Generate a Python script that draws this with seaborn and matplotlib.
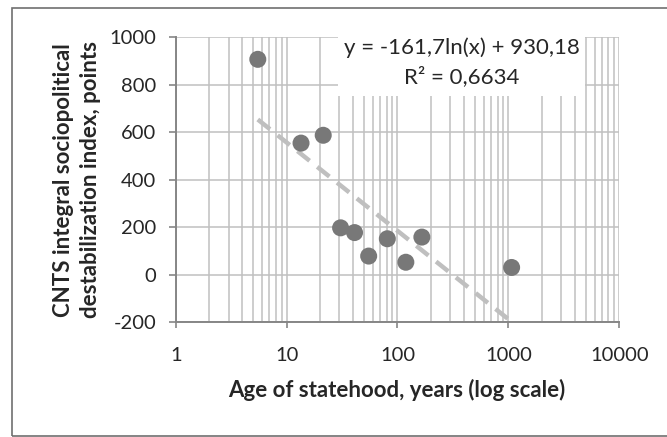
import numpy as np
import pandas as pd
import matplotlib
matplotlib.use("Agg")
import matplotlib.pyplot as plt
import seaborn as sns
from matplotlib.patches import Rectangle
from matplotlib.ticker import LogLocator, FixedLocator, FuncFormatter

# data
age = [5.5, 13.5, 21.4, 30.7, 41, 55, 81, 119, 166, 1070]
cnts_index = [908, 555, 588, 198, 178, 79, 152, 53, 159, 31]

# log trendline from the chart label
slope = -161.7
intercept = 930.18
r2 = 0.6634

x_ticks = [1, 10, 100, 1000, 10000]
y_ticks = [-200, 0, 200, 400, 600, 800, 1000]

df = pd.DataFrame({"age": age, "index": cnts_index})
trend_x = np.geomspace(min(age), max(age), 100)
trend = pd.DataFrame({"age": trend_x, "fit": slope * np.log(trend_x) + intercept})

sns.set_style("white")
plt.rcParams["font.family"] = ["Lato", "DejaVu Sans"]
plt.rcParams["axes.unicode_minus"] = False

fig = plt.figure(figsize=(6.67, 4.37), dpi=100)
ax = fig.add_axes([0.2634, 0.2625, 0.665, 0.6517])

# outer chart border (runs past right edge like the original)
fig.patches.append(Rectangle((12 / 667, 1 / 437), 1.2, 428 / 437, transform=fig.transFigure,
                             fill=False, ec="#707070", lw=1.2))

ax.set_xscale("log")
ax.set_xlim(1, 10000)
ax.set_ylim(-200, 1000)
ax.xaxis.set_major_locator(FixedLocator(x_ticks))
ax.xaxis.set_minor_locator(LogLocator(base=10, subs=np.arange(2, 10)))
ax.xaxis.set_major_formatter(FuncFormatter(lambda v, p: f"{int(v)}"))
ax.yaxis.set_major_locator(FixedLocator(y_ticks))

ax.set_axisbelow(True)
ax.grid(which="major", color="#c0c0c0", lw=1.1)
ax.grid(which="minor", axis="x", color="#c0c0c0", lw=1.1)

# white box behind the equation
ax.add_patch(Rectangle((0.366, 0.7957), 0.5567, 0.2043, transform=ax.transAxes,
                       fc="white", ec="none", zorder=2))

sns.lineplot(data=trend, x="age", y="fit", ax=ax, color="#bfbfbf", lw=3.2,
             zorder=2.5, legend=False)
ax.lines[-1].set_dashes((3.5, 2.2))
sns.scatterplot(data=df, x="age", y="index", ax=ax, color="#787878", s=150,
                edgecolor="none", zorder=3)

ax.text(0.6447, 0.963, f"y = {slope:.1f}ln(x) + {intercept:.2f}".replace(".", ","),
        transform=ax.transAxes, ha="center", va="center", fontsize=16, zorder=4)
ax.text(0.6447, 0.861, f"R² = {r2:.4f}".replace(".", ","),
        transform=ax.transAxes, ha="center", va="center", fontsize=16, zorder=4)

for s in ["top", "right"]:
    ax.spines[s].set_visible(False)
for s in ["left", "bottom"]:
    ax.spines[s].set_color("#868686")
    ax.spines[s].set_linewidth(1.4)

ax.tick_params(axis="x", which="major", direction="out", length=4.5, width=1.2,
               color="#868686", pad=13, labelsize=14.5, bottom=True)
ax.tick_params(axis="x", which="minor", length=0)
ax.tick_params(axis="y", direction="out", length=5, width=1.2, color="#868686",
               pad=9, labelsize=14.5, left=True)

ax.set_xlabel("Age of statehood, years (log scale)", fontsize=16, fontweight="bold", va="center")
ax.xaxis.set_label_coords(0.499, -0.2377)
ax.set_ylabel("CNTS integral sociopolitical\ndestabilization index, points", fontsize=16,
              fontweight="bold", va="center", linespacing=1.3)
ax.yaxis.set_label_coords(-0.2225, 0.5)

fig.savefig("out.png", dpi=100)
